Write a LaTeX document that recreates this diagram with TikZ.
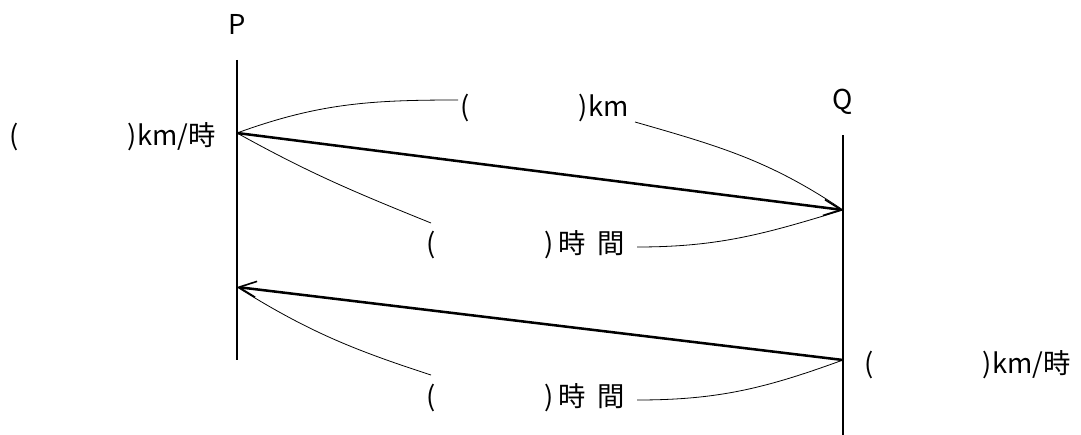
\documentclass[tikz,border=0pt]{standalone}
\usepackage{fontspec}
\setmainfont{Noto Sans CJK JP}
\usetikzlibrary{arrows.meta}
\newcommand{\blank}{\hspace{82pt}}
\newcommand{\jikan}{\hspace{3pt}時\hspace{9pt}間}
\begin{document}
\begin{tikzpicture}[x=0.75pt,y=-0.75pt,
  lbl/.style={inner sep=0pt,font=\fontsize{20.5}{24}\selectfont},
  axis/.style={line width=1.6pt},
  trip/.style={line width=1.9pt,-{Straight Barb[length=13pt,width=12pt,line width=1.2pt]}},
  guide/.style={line width=0.6pt}]
\useasboundingbox (0,0) rectangle (1081,435);
% end points on the lines
\coordinate (Ptop) at (237,60);
\coordinate (Pbot) at (237,360);
\coordinate (Qtop) at (843,135);
\coordinate (Qbot) at (843,435);
\coordinate (P1) at (237,133);
\coordinate (Q1) at (843,210);
\coordinate (P2) at (237,287);
\coordinate (Q2) at (843,360);
% labels
\node[lbl] (P) at (237,24) {P};
\node[lbl] (Q) at (843,102) {Q};
\node[lbl,anchor=west] (vl) at (9,137) {(\blank)km/時};
\node[lbl,anchor=west] (dist) at (460,108) {(\blank)km};
\node[lbl,anchor=west] (t1) at (426,245) {(\blank)\jikan};
\node[lbl,anchor=west] (t2) at (426,398) {(\blank)\jikan};
\node[lbl,anchor=west] (vr) at (864,365) {(\blank)km/時};
\coordinate (distL) at (458,100);
\coordinate (distR) at (635,122);
\coordinate (t1L) at (431,223);
\coordinate (t1R) at (637,247);
\coordinate (t2L) at (431,375);
\coordinate (t2R) at (637,400);
% vertical lines
\draw[axis] (Ptop) -- (Pbot);
\draw[axis] (Qtop) -- (Qbot);
% trips
\draw[trip] (P1) -- (Q1);
\draw[trip] (Q2) -- (P2);
% guide curves
\draw[guide] (P1) to[out=20,in=180] (distL);
\draw[guide] (distR) to[out=-16,in=146] (Q1);
\draw[guide] (P1) to[out=-29,in=158] (t1L);
\draw[guide] (t1R) to[out=0,in=-163] (Q1);
\draw[guide] (P2) to[out=-32,in=162] (t2L);
\draw[guide] (t2R) to[out=0,in=-160] (Q2);
\end{tikzpicture}
\end{document}
